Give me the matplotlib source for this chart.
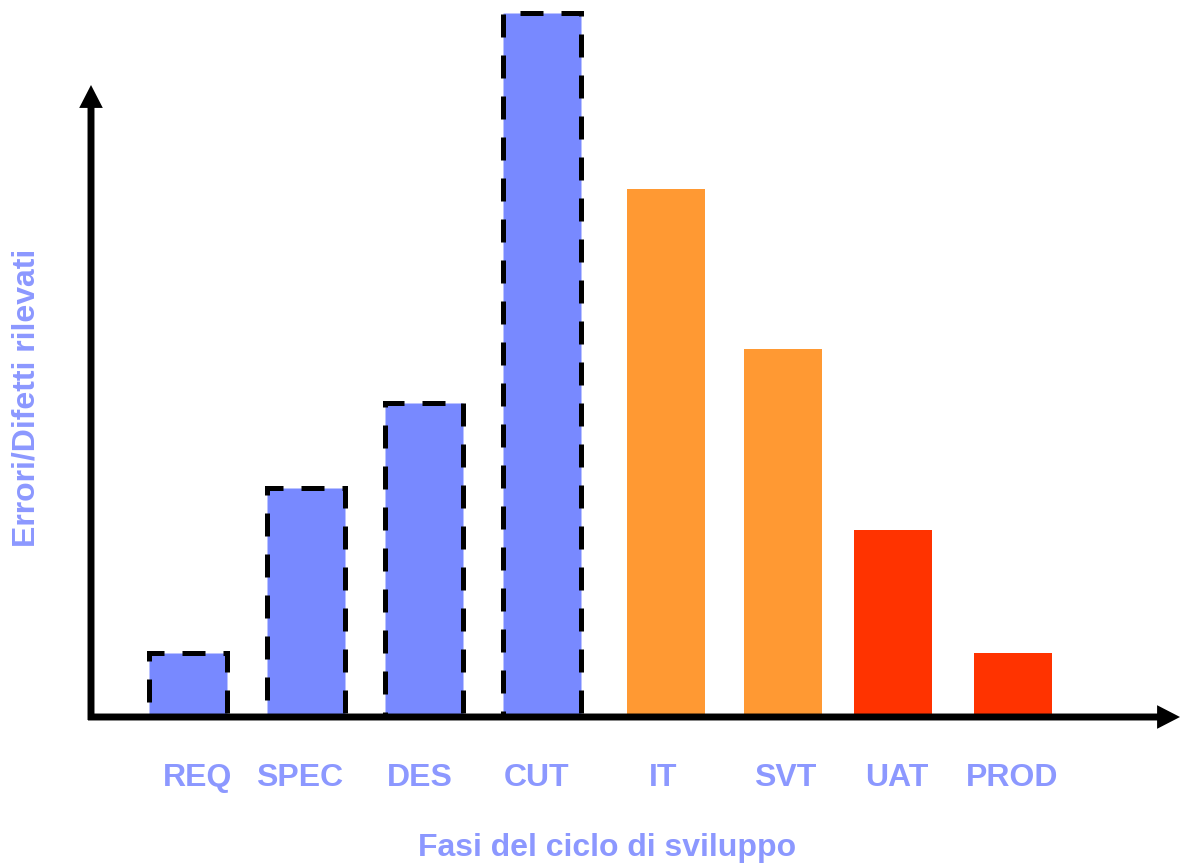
import matplotlib
matplotlib.use('Agg')
import matplotlib.pyplot as plt

# fasi e numero di errori (unita' arbitrarie)
fasi = ['REQ', 'SPEC', 'DES', 'CUT', 'IT', 'SVT', 'UAT', 'PROD']
errori = [64, 229, 314, 704, 528, 368, 187, 64]
colori = ['#7889FF', '#7889FF', '#7889FF', '#7889FF',
          '#FF9933', '#FF9933', '#FF3300', '#FF3300']
tratteggio = [True, True, True, True, False, False, False, False]

bar_x = [97, 215, 333, 451, 575, 692, 802, 922]
label_x = [107, 209, 329, 446, 572, 694, 806, 921]

testo = '#8C98FF'
plt.rcParams['font.family'] = ['Liberation Sans', 'DejaVu Sans']

fig = plt.figure(figsize=(11.8, 8.66), dpi=100)
ax = fig.add_axes([91 / 1180, 149 / 866, 1089 / 1180, 717 / 866])
ax.set_xlim(0, 1089)
ax.set_ylim(0, 717)
ax.axis('off')

for x, h, c, d in zip(bar_x, errori, colori, tratteggio):
    if d:
        ax.bar(x, h, width=78, color=c, edgecolor='black', linewidth=3.6,
               linestyle=(0, (4.6, 3.6)), zorder=2, clip_on=False)
    else:
        ax.bar(x, h, width=78, color=c, linewidth=0, zorder=2)

# assi con frecce
arrow = dict(width=5, headwidth=17, headlength=16.5, facecolor='black',
             edgecolor='black', linewidth=0, shrink=0)
ax.annotate('', xy=(0, 717 - 85), xytext=(0, -3), arrowprops=arrow,
            annotation_clip=False, zorder=3)
ax.annotate('', xy=(1089, 0), xytext=(-3, 0), arrowprops=arrow,
            annotation_clip=False, zorder=3)

for x, f in zip(label_x, fasi):
    ax.text(x, -61, f, ha='center', va='center', fontsize=23,
            fontweight='bold', color=testo, clip_on=False)

fig.text(607 / 1180, 1 - 848 / 866, 'Fasi del ciclo di sviluppo',
         ha='center', va='center', fontsize=23, fontweight='bold', color=testo)
fig.text(27 / 1180, 1 - 398 / 866, 'Errori/Difetti rilevati', rotation=90,
         ha='center', va='center', fontsize=23, fontweight='bold', color=testo)

fig.savefig('out.png', dpi=100)
